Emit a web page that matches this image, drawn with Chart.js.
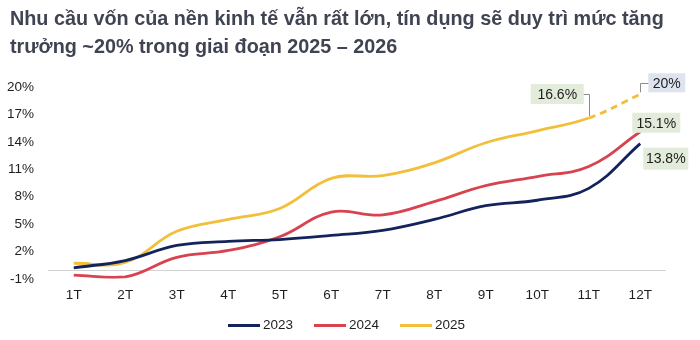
<!DOCTYPE html>
<html>
<head>
<meta charset="utf-8">
<script src="https://cdn.jsdelivr.net/npm/chart.js@4"></script>
<style>
  body { margin: 0; background: #fff; }
  #wrap { position: relative; width: 700px; height: 340px; overflow: hidden; }
  #title {
    position: absolute; left: 10px; top: 4px; width: 690px;
    font: bold 19.8px "Liberation Sans", Arial, sans-serif;
    line-height: 28px; color: #404452;
  }
  #chart { position: absolute; left: 0; top: 0; }
  #legend {
    position: absolute; left: 228px; top: 317px; display: flex; align-items: center;
    font: 13.5px "Liberation Sans", Arial, sans-serif; color: #1e1e1e; line-height: 16px;
  }
  #legend .item { display: flex; align-items: center; margin-right: 21px; }
  #legend .swatch { width: 32px; height: 3px; margin-right: 3px; }
</style>
</head>
<body>
<div id="wrap">
  <canvas id="chart" width="700" height="340"></canvas>
  <div id="title">Nhu cầu vốn của nền kinh tế vẫn rất lớn, tín dụng sẽ duy trì mức tăng<br>trưởng ~20% trong giai đoạn 2025 – 2026</div>
  <div id="legend"></div>
</div>
<script>
// data
const MONTHS = ['1T', '2T', '3T', '4T', '5T', '6T', '7T', '8T', '9T', '10T', '11T', '12T'];
const Y_TICKS = [-1, 2, 5, 8, 11, 14, 17, 20];
const SERIES_NAMES = ['2023', '2024', '2025'];
const CREDIT_2023 = [0.2, 1.0, 2.65, 3.1, 3.3, 3.75, 4.3, 5.5, 7.0, 7.6, 8.9, 13.8];
const CREDIT_2024 = [-0.6, -0.8, 1.35, 2.1, 3.6, 6.3, 6.0, 7.45, 9.2, 10.2, 11.3, 15.1];
const CREDIT_2025 = [0.7, 0.8, 4.2, 5.5, 6.7, 10.0, 10.3, 11.7, 13.9, 15.2, 16.6, 19.2];
const CALLOUT_TEXT = ['16.6%', '20%', '15.1%', '13.8%'];

const FONT = '"Liberation Sans", Arial, sans-serif';
const COLORS = ['#13235c', '#d9424f', '#f2bf3a'];

// callout boxes: which point, where the box sits relative to it
const callouts = [
  { ds: 2, idx: 10, text: CALLOUT_TEXT[0], bg: '#e3ebda', dx: -58, dy: -34, w: 53, h: 20, leader: 'right' },
  { ds: 2, idx: 11, text: CALLOUT_TEXT[1], bg: '#dee3f0', dx: 8, dy: -21, w: 37, h: 19, leader: 'left' },
  { ds: 1, idx: 11, text: CALLOUT_TEXT[2], bg: '#e3ebda', dx: -8, dy: -19, w: 48, h: 20 },
  { ds: 0, idx: 11, text: CALLOUT_TEXT[3], bg: '#e3ebda', dx: 3, dy: 4, w: 45, h: 22 }
];

const zeroLine = {
  id: 'zeroLine',
  beforeDatasetsDraw(chart) {
    const { ctx, chartArea } = chart;
    const y = Math.round(chart.scales.y.getPixelForValue(0)) + 0.5;
    ctx.save();
    ctx.strokeStyle = '#d3d3d3';
    ctx.lineWidth = 1;
    ctx.beginPath();
    ctx.moveTo(chartArea.left, y);
    ctx.lineTo(chartArea.right, y);
    ctx.stroke();
    ctx.restore();
  }
};

const calloutLabels = {
  id: 'calloutLabels',
  afterDatasetsDraw(chart) {
    const ctx = chart.ctx;
    ctx.save();
    callouts.forEach(c => {
      const pt = chart.getDatasetMeta(c.ds).data[c.idx];
      const bx = pt.x + c.dx;
      const by = pt.y + c.dy;
      ctx.fillStyle = c.bg;
      ctx.fillRect(bx, by, c.w, c.h);
      if (c.leader) {
        ctx.strokeStyle = '#8c8c8c';
        ctx.lineWidth = 1;
        ctx.beginPath();
        const my = Math.round(by + c.h / 2) + 0.5;
        const px = Math.round(pt.x) + 0.5;
        ctx.moveTo(c.leader === 'right' ? bx + c.w : bx, my);
        ctx.lineTo(px, my);
        ctx.lineTo(px, pt.y - 2);
        ctx.stroke();
      }
      ctx.fillStyle = '#1e1e1e';
      ctx.font = '14px ' + FONT;
      ctx.textAlign = 'center';
      ctx.textBaseline = 'middle';
      ctx.fillText(c.text, bx + c.w / 2, by + c.h / 2 + 1);
    });
    ctx.restore();
  }
};

const allSeries = [CREDIT_2023, CREDIT_2024, CREDIT_2025];

const chart = new Chart(document.getElementById('chart'), {
  type: 'line',
  data: {
    labels: MONTHS,
    datasets: allSeries.map((values, i) => ({
      label: SERIES_NAMES[i],
      data: values,
      borderColor: COLORS[i],
      backgroundColor: COLORS[i],
      borderWidth: 2.8,
      pointRadius: 0,
      tension: 0.4,
      segment: i === 2 ? {
        borderDash: ctx => ctx.p0DataIndex === 10 ? [7, 5] : undefined
      } : undefined
    }))
  },
  options: {
    responsive: false,
    animation: false,
    layout: { padding: { left: 5, right: 34, top: 87, bottom: 29 } },
    scales: {
      x: {
        offset: true,
        grid: { display: false, drawTicks: false },
        border: { display: false },
        ticks: { color: '#1e1e1e', font: { family: FONT, size: 13.5 }, padding: 8 }
      },
      y: {
        min: -1,
        max: 20,
        afterBuildTicks: scale => { scale.ticks = Y_TICKS.map(v => ({ value: v })); },
        afterFit: scale => { scale.width = 43; },
        grid: { display: false, drawTicks: false },
        border: { display: false },
        ticks: {
          color: '#1e1e1e',
          font: { family: FONT, size: 13.5 },
          padding: 14,
          callback: v => v + '%'
        }
      }
    },
    plugins: {
      title: { display: false },
      tooltip: { enabled: false },
      legend: { display: false }
    }
  },
  plugins: [zeroLine, calloutLabels]
});

// legend built from the chart's datasets
const legend = document.getElementById('legend');
chart.data.datasets.forEach(ds => {
  const item = document.createElement('div');
  item.className = 'item';
  item.innerHTML = `<span class="swatch" style="background:${ds.borderColor}"></span><span>${ds.label}</span>`;
  legend.appendChild(item);
});
</script>
</body>
</html>
